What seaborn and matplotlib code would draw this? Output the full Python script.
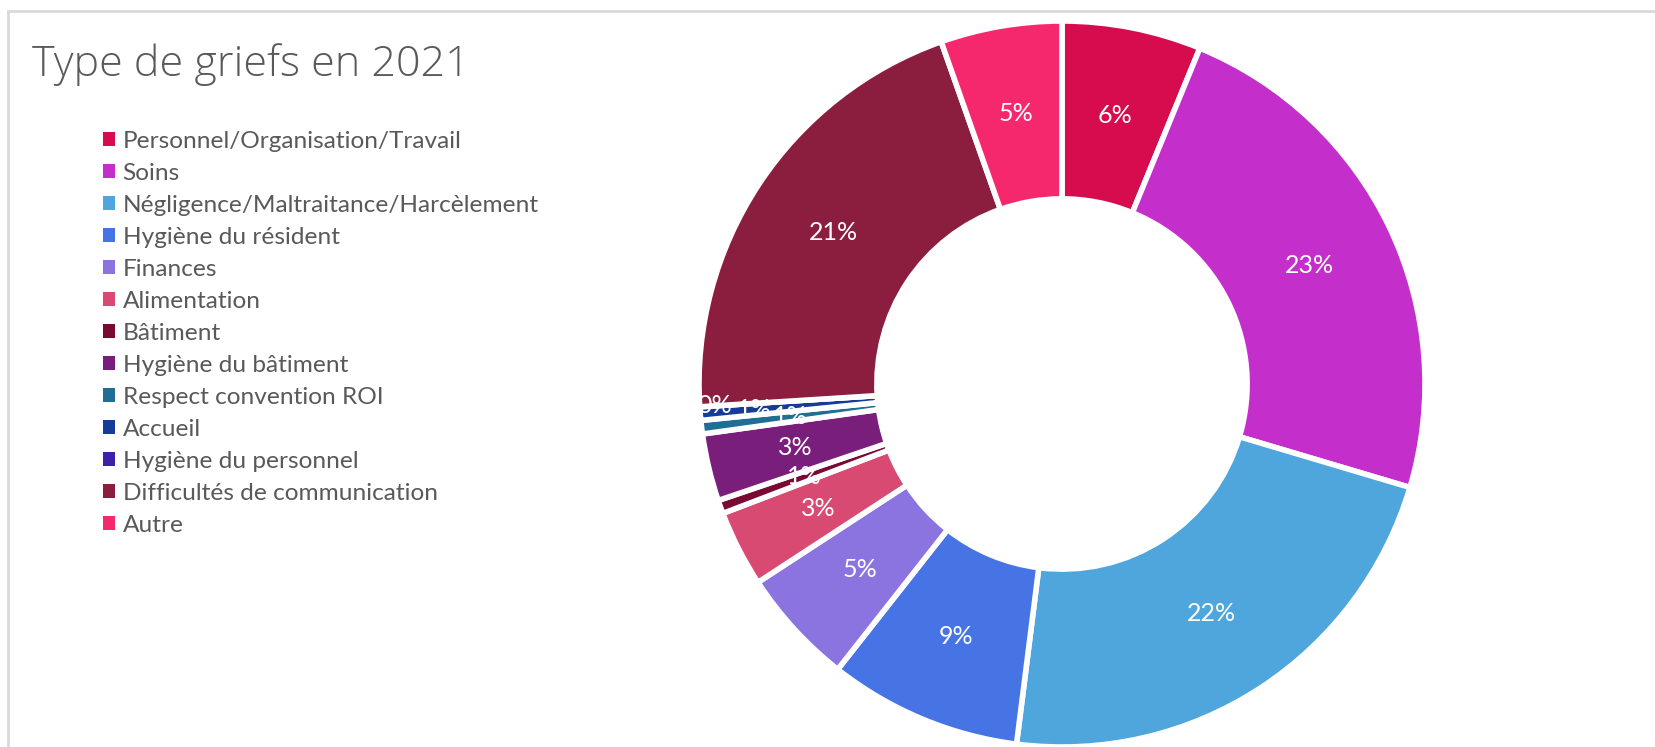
import matplotlib
matplotlib.use("Agg")
import matplotlib.pyplot as plt
import seaborn as sns
import numpy as np
from matplotlib.patches import Patch

categories = [
    "Personnel/Organisation/Travail",
    "Soins",
    "Négligence/Maltraitance/Harcèlement",
    "Hygiène du résident",
    "Finances",
    "Alimentation",
    "Bâtiment",
    "Hygiène du bâtiment",
    "Respect convention ROI",
    "Accueil",
    "Hygiène du personnel",
    "Difficultés de communication",
    "Autre",
]
values = [6.2, 23.4, 22.4, 8.6, 5.2, 3.4, 0.6, 3.0, 0.6, 0.6, 0.0, 20.6, 5.4]
colors = ["#D60C4F", "#C42FCB", "#4EA6DC", "#4674E4", "#8B74E0", "#D84A72",
          "#7A0A32", "#791E7A", "#1F6E94", "#163C9A", "#3F20A8", "#8B1E3F", "#F5286E"]
title = "Type de griefs en 2021"

sns.set_theme(style="white")
plt.rcParams["font.family"] = ["Lato", "DejaVu Sans"]
palette = sns.color_palette(colors)

W, H = 1656, 747
fig = plt.figure(figsize=(W / 100, H / 100), dpi=100)
fig.patch.set_facecolor("white")

# chart frame lines
fig.add_artist(plt.Line2D([8 / W, 1], [1 - 11 / H, 1 - 11 / H], color="#d9d9d9", lw=2))
fig.add_artist(plt.Line2D([8 / W, 8 / W], [0, 1 - 11 / H], color="#d9d9d9", lw=2))

cx, cy, R = 1062, 384, 363
ax = fig.add_axes([(cx - R) / W, (H - cy - R) / H, 2 * R / W, 2 * R / H])
wedges, texts, autotexts = ax.pie(
    values, colors=palette, startangle=90, counterclock=False,
    autopct="%.0f%%", pctdistance=0.755,
    wedgeprops=dict(width=0.49, edgecolor="white", linewidth=4),
    textprops=dict(color="white", fontsize=18),
)
ax.set_xlim(-1, 1)
ax.set_ylim(-1, 1)
ax.set_aspect("equal")

# shift crowded small labels outward
shift = {"Accueil": 0.85, "Hygiène du personnel": 0.96}
for w, t, c in zip(wedges, autotexts, categories):
    if c in shift:
        ang = np.deg2rad((w.theta1 + w.theta2) / 2)
        t.set_position((shift[c] * np.cos(ang), shift[c] * np.sin(ang)))

fig.text(32 / W, 1 - 76 / H, title, fontsize=31, color="#595959",
         va="baseline", ha="left", fontweight="light",
         family=["Open Sans", "DejaVu Sans"])

handles = [Patch(facecolor=col, edgecolor="none") for col in palette]
leg = fig.legend(handles, categories, loc="upper left",
                 bbox_to_anchor=(81 / W, 1 - 109 / H), frameon=False,
                 fontsize=17.6, labelcolor="#595959", handlelength=0.5,
                 handleheight=0.5, handletextpad=0.3, labelspacing=0.45)

fig.savefig("out.png", dpi=100, facecolor="white")
